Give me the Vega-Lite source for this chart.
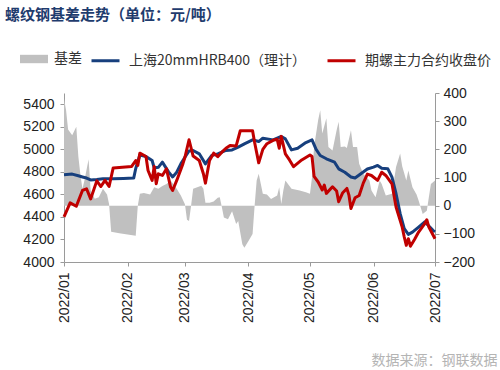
{
  "$schema": "https://vega.github.io/schema/vega-lite/v6.json",
  "width": 371,
  "height": 169,
  "autosize": "none",
  "padding": {"left": 64, "top": 93, "right": 65, "bottom": 108},
  "background": "white",
  "title": {
    "text": "螺纹钢基差走势（单位：元/吨）",
    "anchor": "start",
    "frame": "group",
    "dx": -59,
    "offset": 22,
    "font": "Noto Sans CJK SC",
    "fontSize": 15,
    "fontWeight": "bold",
    "color": "#1f3c6e"
  },
  "config": {
    "view": {"stroke": null},
    "axis": {
      "grid": false,
      "labelFont": "Liberation Sans",
      "labelFontSize": 14,
      "labelColor": "#222222",
      "domainColor": "#9a9a9a",
      "tickColor": "#9a9a9a",
      "tickSize": 4,
      "labelPadding": 6
    },
    "legend": {
      "labelFont": "Noto Sans CJK SC",
      "labelFontSize": 14,
      "labelColor": "#333333",
      "labelLimit": 400
    }
  },
  "datasets": {
    "basis": [
      {"date": "2022-01-01", "v": 380},
      {"date": "2022-01-02", "v": 340},
      {"date": "2022-01-03", "v": 270},
      {"date": "2022-01-05", "v": 250},
      {"date": "2022-01-06", "v": 265},
      {"date": "2022-01-07", "v": 280},
      {"date": "2022-01-08", "v": 175},
      {"date": "2022-01-09", "v": 110},
      {"date": "2022-01-10", "v": 60},
      {"date": "2022-01-11", "v": 90},
      {"date": "2022-01-13", "v": 165},
      {"date": "2022-01-14", "v": 55},
      {"date": "2022-01-16", "v": 25},
      {"date": "2022-01-18", "v": 30},
      {"date": "2022-01-20", "v": 60},
      {"date": "2022-01-22", "v": 40},
      {"date": "2022-01-23", "v": 5},
      {"date": "2022-01-24", "v": -93},
      {"date": "2022-01-28", "v": -98},
      {"date": "2022-02-01", "v": -102},
      {"date": "2022-02-05", "v": -107},
      {"date": "2022-02-06", "v": 0},
      {"date": "2022-02-07", "v": 42},
      {"date": "2022-02-09", "v": 45},
      {"date": "2022-02-12", "v": 40},
      {"date": "2022-02-14", "v": 65},
      {"date": "2022-02-16", "v": 60},
      {"date": "2022-02-18", "v": 70},
      {"date": "2022-02-20", "v": 77},
      {"date": "2022-02-22", "v": 89},
      {"date": "2022-02-25", "v": 60},
      {"date": "2022-02-27", "v": 36},
      {"date": "2022-03-01", "v": 5},
      {"date": "2022-03-02", "v": -50},
      {"date": "2022-03-03", "v": -54},
      {"date": "2022-03-04", "v": 0},
      {"date": "2022-03-05", "v": 60},
      {"date": "2022-03-09", "v": 71},
      {"date": "2022-03-10", "v": 60},
      {"date": "2022-03-11", "v": 10},
      {"date": "2022-03-13", "v": 10},
      {"date": "2022-03-15", "v": 15},
      {"date": "2022-03-17", "v": 28},
      {"date": "2022-03-18", "v": 30},
      {"date": "2022-03-19", "v": -5},
      {"date": "2022-03-20", "v": -42},
      {"date": "2022-03-22", "v": -48},
      {"date": "2022-03-24", "v": -20},
      {"date": "2022-03-26", "v": -65},
      {"date": "2022-03-27", "v": -54},
      {"date": "2022-03-29", "v": -137},
      {"date": "2022-03-30", "v": -149},
      {"date": "2022-04-01", "v": -125},
      {"date": "2022-04-03", "v": -101},
      {"date": "2022-04-04", "v": 0},
      {"date": "2022-04-05", "v": 89},
      {"date": "2022-04-06", "v": 113},
      {"date": "2022-04-08", "v": 42},
      {"date": "2022-04-10", "v": 40},
      {"date": "2022-04-12", "v": 24},
      {"date": "2022-04-15", "v": 36},
      {"date": "2022-04-16", "v": 65},
      {"date": "2022-04-17", "v": 6},
      {"date": "2022-04-18", "v": 54},
      {"date": "2022-04-19", "v": 89},
      {"date": "2022-04-21", "v": 70},
      {"date": "2022-04-22", "v": 60},
      {"date": "2022-04-26", "v": 54},
      {"date": "2022-04-29", "v": 48},
      {"date": "2022-05-01", "v": 42},
      {"date": "2022-05-02", "v": 101},
      {"date": "2022-05-03", "v": 208},
      {"date": "2022-05-05", "v": 304},
      {"date": "2022-05-06", "v": 339},
      {"date": "2022-05-07", "v": 256},
      {"date": "2022-05-09", "v": 310},
      {"date": "2022-05-10", "v": 208},
      {"date": "2022-05-12", "v": 196},
      {"date": "2022-05-14", "v": 268},
      {"date": "2022-05-15", "v": 298},
      {"date": "2022-05-16", "v": 208},
      {"date": "2022-05-18", "v": 210},
      {"date": "2022-05-19", "v": 205},
      {"date": "2022-05-21", "v": 268},
      {"date": "2022-05-22", "v": 208},
      {"date": "2022-05-24", "v": 208},
      {"date": "2022-05-25", "v": 149},
      {"date": "2022-05-27", "v": 113},
      {"date": "2022-05-30", "v": 89},
      {"date": "2022-05-31", "v": 54},
      {"date": "2022-06-02", "v": 30},
      {"date": "2022-06-04", "v": 89},
      {"date": "2022-06-05", "v": 77},
      {"date": "2022-06-07", "v": 36},
      {"date": "2022-06-10", "v": 42},
      {"date": "2022-06-12", "v": 137},
      {"date": "2022-06-14", "v": 185},
      {"date": "2022-06-15", "v": 140},
      {"date": "2022-06-17", "v": 89},
      {"date": "2022-06-18", "v": 125},
      {"date": "2022-06-20", "v": 65},
      {"date": "2022-06-22", "v": 40},
      {"date": "2022-06-23", "v": 18},
      {"date": "2022-06-25", "v": -30},
      {"date": "2022-06-27", "v": -18},
      {"date": "2022-06-28", "v": 30},
      {"date": "2022-06-29", "v": 77},
      {"date": "2022-07-01", "v": 89}
    ],
    "spot": [
      {"date": "2022-01-01", "p": 4775},
      {"date": "2022-01-05", "p": 4780},
      {"date": "2022-01-08", "p": 4765},
      {"date": "2022-01-10", "p": 4755},
      {"date": "2022-01-12", "p": 4745},
      {"date": "2022-01-14", "p": 4728},
      {"date": "2022-01-17", "p": 4732},
      {"date": "2022-01-20", "p": 4738},
      {"date": "2022-01-25", "p": 4740},
      {"date": "2022-01-30", "p": 4742},
      {"date": "2022-02-04", "p": 4745},
      {"date": "2022-02-05", "p": 4830},
      {"date": "2022-02-07", "p": 4950},
      {"date": "2022-02-10", "p": 4936},
      {"date": "2022-02-13", "p": 4901},
      {"date": "2022-02-14", "p": 4835},
      {"date": "2022-02-16", "p": 4840},
      {"date": "2022-02-18", "p": 4886},
      {"date": "2022-02-21", "p": 4800},
      {"date": "2022-02-23", "p": 4755},
      {"date": "2022-02-25", "p": 4797},
      {"date": "2022-02-27", "p": 4871},
      {"date": "2022-03-01", "p": 4930},
      {"date": "2022-03-03", "p": 4985},
      {"date": "2022-03-05", "p": 4990},
      {"date": "2022-03-08", "p": 4960},
      {"date": "2022-03-11", "p": 4871},
      {"date": "2022-03-14", "p": 4945},
      {"date": "2022-03-17", "p": 4960},
      {"date": "2022-03-21", "p": 4990},
      {"date": "2022-03-24", "p": 4995},
      {"date": "2022-03-27", "p": 5020},
      {"date": "2022-03-30", "p": 5049},
      {"date": "2022-04-03", "p": 5084},
      {"date": "2022-04-06", "p": 5069},
      {"date": "2022-04-08", "p": 5099},
      {"date": "2022-04-13", "p": 5084},
      {"date": "2022-04-17", "p": 5114},
      {"date": "2022-04-19", "p": 5093},
      {"date": "2022-04-22", "p": 4995},
      {"date": "2022-04-25", "p": 5010},
      {"date": "2022-04-29", "p": 5060},
      {"date": "2022-05-02", "p": 5084},
      {"date": "2022-05-04", "p": 5000},
      {"date": "2022-05-06", "p": 4945},
      {"date": "2022-05-09", "p": 4916},
      {"date": "2022-05-13", "p": 4886},
      {"date": "2022-05-15", "p": 4827},
      {"date": "2022-05-18", "p": 4797},
      {"date": "2022-05-21", "p": 4755},
      {"date": "2022-05-23", "p": 4745},
      {"date": "2022-05-25", "p": 4772},
      {"date": "2022-05-29", "p": 4825},
      {"date": "2022-06-01", "p": 4842},
      {"date": "2022-06-03", "p": 4857},
      {"date": "2022-06-05", "p": 4832},
      {"date": "2022-06-08", "p": 4827},
      {"date": "2022-06-10", "p": 4753},
      {"date": "2022-06-12", "p": 4606},
      {"date": "2022-06-14", "p": 4429},
      {"date": "2022-06-16", "p": 4296},
      {"date": "2022-06-18", "p": 4245},
      {"date": "2022-06-20", "p": 4265},
      {"date": "2022-06-23", "p": 4310},
      {"date": "2022-06-26", "p": 4356},
      {"date": "2022-06-28", "p": 4320},
      {"date": "2022-06-30", "p": 4281},
      {"date": "2022-07-01", "p": 4267}
    ],
    "fut": [
      {"date": "2022-01-01", "p": 4400},
      {"date": "2022-01-04", "p": 4525},
      {"date": "2022-01-07", "p": 4495},
      {"date": "2022-01-10", "p": 4635},
      {"date": "2022-01-12", "p": 4650},
      {"date": "2022-01-14", "p": 4560},
      {"date": "2022-01-17", "p": 4720},
      {"date": "2022-01-19", "p": 4670},
      {"date": "2022-01-21", "p": 4725},
      {"date": "2022-01-23", "p": 4670},
      {"date": "2022-01-25", "p": 4835},
      {"date": "2022-02-03", "p": 4848},
      {"date": "2022-02-05", "p": 4900},
      {"date": "2022-02-06", "p": 4857},
      {"date": "2022-02-07", "p": 4966},
      {"date": "2022-02-10", "p": 4936},
      {"date": "2022-02-11", "p": 4812},
      {"date": "2022-02-13", "p": 4724},
      {"date": "2022-02-14", "p": 4848},
      {"date": "2022-02-15", "p": 4694},
      {"date": "2022-02-16", "p": 4783},
      {"date": "2022-02-18", "p": 4768},
      {"date": "2022-02-20", "p": 4827},
      {"date": "2022-02-22", "p": 4665},
      {"date": "2022-02-23", "p": 4635},
      {"date": "2022-02-25", "p": 4724},
      {"date": "2022-02-28", "p": 4871},
      {"date": "2022-03-01", "p": 4930},
      {"date": "2022-03-03", "p": 5085},
      {"date": "2022-03-05", "p": 4940},
      {"date": "2022-03-08", "p": 4901},
      {"date": "2022-03-10", "p": 4783},
      {"date": "2022-03-11", "p": 4700},
      {"date": "2022-03-13", "p": 4900},
      {"date": "2022-03-15", "p": 4966},
      {"date": "2022-03-17", "p": 4935},
      {"date": "2022-03-19", "p": 4975},
      {"date": "2022-03-21", "p": 5010},
      {"date": "2022-03-23", "p": 5034},
      {"date": "2022-03-26", "p": 5030},
      {"date": "2022-03-28", "p": 5165},
      {"date": "2022-04-03", "p": 5165},
      {"date": "2022-04-04", "p": 5060},
      {"date": "2022-04-06", "p": 4880},
      {"date": "2022-04-08", "p": 5000},
      {"date": "2022-04-10", "p": 5050},
      {"date": "2022-04-13", "p": 5080},
      {"date": "2022-04-15", "p": 5090},
      {"date": "2022-04-16", "p": 5010},
      {"date": "2022-04-17", "p": 5115},
      {"date": "2022-04-19", "p": 4960},
      {"date": "2022-04-21", "p": 4906},
      {"date": "2022-04-23", "p": 4846},
      {"date": "2022-04-27", "p": 4906},
      {"date": "2022-05-01", "p": 4950},
      {"date": "2022-05-02", "p": 4936},
      {"date": "2022-05-03", "p": 4760},
      {"date": "2022-05-05", "p": 4710},
      {"date": "2022-05-07", "p": 4639},
      {"date": "2022-05-08", "p": 4683},
      {"date": "2022-05-09", "p": 4609},
      {"date": "2022-05-12", "p": 4668},
      {"date": "2022-05-14", "p": 4630},
      {"date": "2022-05-15", "p": 4535},
      {"date": "2022-05-17", "p": 4615},
      {"date": "2022-05-19", "p": 4653},
      {"date": "2022-05-20", "p": 4594},
      {"date": "2022-05-21", "p": 4475},
      {"date": "2022-05-23", "p": 4570},
      {"date": "2022-05-25", "p": 4590},
      {"date": "2022-05-27", "p": 4700},
      {"date": "2022-05-29", "p": 4780},
      {"date": "2022-05-31", "p": 4768},
      {"date": "2022-06-03", "p": 4724},
      {"date": "2022-06-05", "p": 4797},
      {"date": "2022-06-07", "p": 4768},
      {"date": "2022-06-10", "p": 4694},
      {"date": "2022-06-12", "p": 4488},
      {"date": "2022-06-15", "p": 4310},
      {"date": "2022-06-16", "p": 4222},
      {"date": "2022-06-17", "p": 4148},
      {"date": "2022-06-18", "p": 4207},
      {"date": "2022-06-19", "p": 4140},
      {"date": "2022-06-21", "p": 4200},
      {"date": "2022-06-23", "p": 4266},
      {"date": "2022-06-26", "p": 4340},
      {"date": "2022-06-27", "p": 4375},
      {"date": "2022-06-28", "p": 4310},
      {"date": "2022-07-01", "p": 4207}
    ]
  },
  "encoding": {
    "x": {
      "field": "date",
      "type": "temporal",
      "scale": {
        "type": "utc",
        "domain": [
          {"year": 2022, "month": 1, "date": 1, "utc": true},
          {"year": 2022, "month": 7, "date": 1, "utc": true}
        ]
      },
      "axis": {
        "title": "数据来源：钢联数据",
        "titleFont": "Noto Sans CJK SC",
        "titleFontSize": 14,
        "titleFontWeight": "normal",
        "titleColor": "#b4b4b4",
        "titleAnchor": null,
        "titleAlign": "right",
        "titleBaseline": "middle",
        "titleX": 433,
        "titleY": 98,
        "labelExpr": "utcFormat(datum.value, '%Y/%m')",
        "labelAngle": 270,
        "labelPadding": 6,
        "values": [
          {"year": 2022, "month": 1, "date": 1, "utc": true},
          {"year": 2022, "month": 2, "date": 1, "utc": true},
          {"year": 2022, "month": 3, "date": 1, "utc": true},
          {"year": 2022, "month": 4, "date": 1, "utc": true},
          {"year": 2022, "month": 5, "date": 1, "utc": true},
          {"year": 2022, "month": 6, "date": 1, "utc": true},
          {"year": 2022, "month": 7, "date": 1, "utc": true}
        ]
      }
    }
  },
  "layer": [
    {
      "data": {"name": "basis"},
      "mark": {"type": "area", "opacity": 1},
      "encoding": {
        "y": {
          "field": "v",
          "type": "quantitative",
          "scale": {"domain": [-200, 400], "nice": false, "zero": false},
          "axis": {
            "orient": "right",
            "title": null,
            "format": "d",
            "values": [-200, -100, 0, 100, 200, 300, 400],
            "labelPadding": 4
          }
        },
        "y2": {"datum": 0},
        "fill": {
          "datum": "基差",
          "scale": {"range": ["#c0c0c0"]},
          "legend": {
            "orient": "none",
            "legendX": -44,
            "legendY": -48,
            "title": null,
            "symbolType": "M-1,-0.3H1V0.3H-1Z",
            "symbolSize": 784,
            "symbolStrokeWidth": 0,
            "symbolOpacity": 1,
            "labelOffset": 6,
            "padding": 0
          }
        }
      }
    },
    {
      "encoding": {
        "y": {
          "field": "p",
          "type": "quantitative",
          "scale": {"domain": [4000, 5500], "nice": false, "zero": false},
          "axis": {
            "orient": "left",
            "title": null,
            "format": "d",
            "values": [4000, 4200, 4400, 4600, 4800, 5000, 5200, 5400],
            "labelPadding": 6
          }
        }
      },
      "layer": [
        {
          "data": {"name": "spot"},
          "mark": {"type": "line", "strokeWidth": 3, "strokeJoin": "round"},
          "encoding": {
            "stroke": {
              "datum": "上海20mmHRB400（理计）",
              "scale": {
                "domain": ["上海20mmHRB400（理计）", "期螺主力合约收盘价"],
                "range": ["#173f7d", "#c00000"]
              },
              "legend": {
                "orient": "none",
                "legendX": 26,
                "legendY": -48,
                "direction": "horizontal",
                "title": null,
                "symbolType": "stroke",
                "symbolSize": 784,
                "symbolStrokeWidth": 3,
                "labelOffset": 8,
                "columnPadding": 14,
                "padding": 0
              }
            }
          }
        },
        {
          "data": {"name": "fut"},
          "mark": {"type": "line", "strokeWidth": 3, "strokeJoin": "round"},
          "encoding": {
            "stroke": {"datum": "期螺主力合约收盘价"}
          }
        }
      ]
    }
  ],
  "resolve": {"scale": {"y": "independent"}}
}
